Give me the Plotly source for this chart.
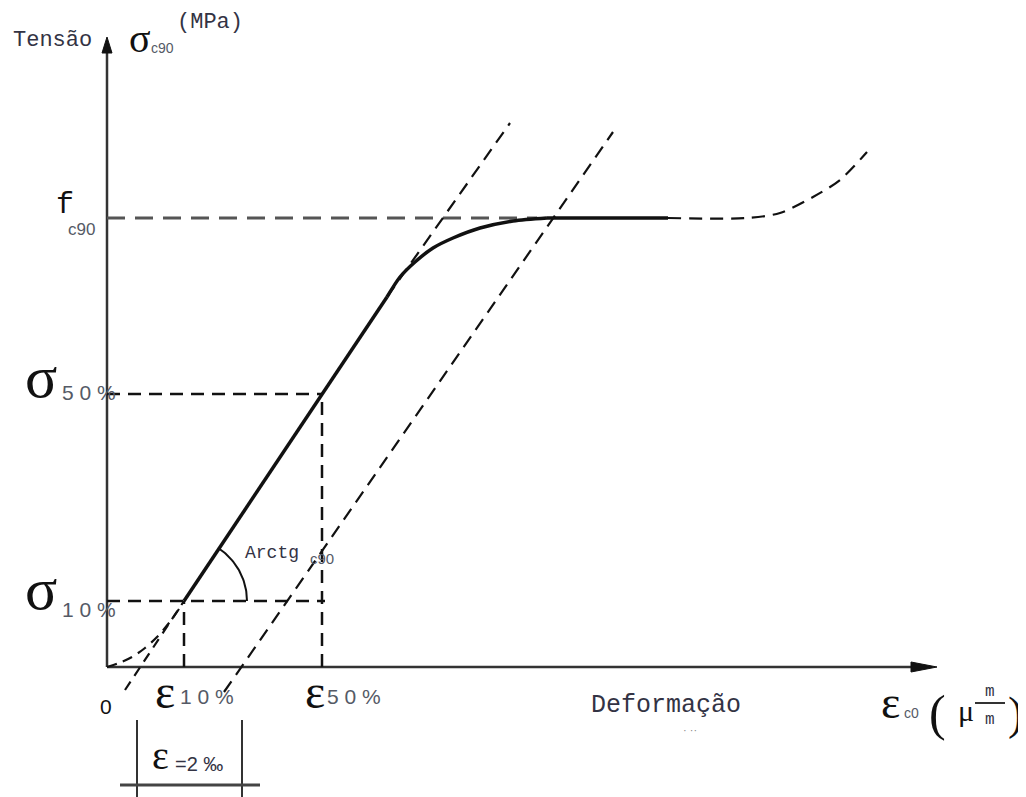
import numpy as np
import plotly.graph_objects as go

# ---------------- data (schematic units: strain -> x, stress -> y) ----------------
eps_10, sig_10 = 77, 66          # point at 10 % of strength
eps_50, sig_50 = 215, 273        # point at 50 % of strength
f_c90 = 449                      # compressive strength perpendicular to grain
axis_x_end, axis_y_end = 830, 630

linear_eps = [77, 280]
linear_sig = [66, 370]
knee_eps = [280, 293, 308, 326, 346, 373, 406, 440]
knee_sig = [370, 390, 405, 419, 429, 439, 446, 449]
plateau_eps = [440, 561]
plateau_sig = [449, 449]
tail_eps = [561, 640, 673, 706, 733, 760]
tail_sig = [449, 449, 454, 470, 487, 515]
toe_eps = [0, 12, 25, 38, 50, 62, 72]
toe_sig = [0, 4, 10, 19, 30, 44, 58]
ext_low_eps = [18, 77]
ext_low_sig = [-23, 66]
ext_high_eps = [280, 403]
ext_high_sig = [370, 544]
offset_eps = [117, 506]          # line parallel to elastic part, shifted by 2 per mil
offset_sig = [-25, 535]
arc_radius = 63
arc_angle_deg = 56
bracket_left, bracket_right = 30, 135
bracket_top, bracket_bottom = -53, -135
bracket_base, bracket_base_left, bracket_base_right = -118, 13, 153

# page has an 8px body margin: figure is 1018x789, 1 unit = 1 px
X0, X1 = -99, 919
Y0, Y1 = -130, 659

INK = "#111111"
TXT = "#222222"
SUB = "#555a66"
MONO = "Liberation Mono"
SERIF = "Liberation Serif"
SANS = "Liberation Sans"

fig = go.Figure()


def line(xs, ys, width=2.0, dash=None, color=INK, shape="linear"):
    fig.add_trace(go.Scatter(
        x=xs, y=ys, mode="lines", hoverinfo="skip", showlegend=False,
        line=dict(color=color, width=width, dash=dash, shape=shape, smoothing=0.8),
    ))


DASH = "13px,8px"

# axes
line([0, axis_x_end - 20], [0, 0], width=2.5, color="#333333")
line([0, 0], [0, axis_y_end - 12], width=2.5, color="#333333")
# arrow heads
fig.add_trace(go.Scatter(
    x=[axis_x_end, axis_x_end - 26, axis_x_end - 26, axis_x_end],
    y=[0, 5, -5, 0], fill="toself", fillcolor=INK, mode="lines",
    line=dict(color=INK, width=1), hoverinfo="skip", showlegend=False))
fig.add_trace(go.Scatter(
    x=[0, -5, 5, 0],
    y=[axis_y_end, axis_y_end - 16, axis_y_end - 16, axis_y_end], fill="toself",
    fillcolor=INK, mode="lines", line=dict(color=INK, width=1),
    hoverinfo="skip", showlegend=False))

# reference dashed lines
line([0, knee_eps[-1] - 10], [f_c90, f_c90], width=3, dash="18px,10px", color="#555555")
line([0, eps_50], [sig_50, sig_50], width=2.5, dash=DASH)
line([0, eps_50 + 3], [sig_10, sig_10], width=2.5, dash=DASH)
line([eps_10, eps_10], [0, sig_10], width=2.5, dash=DASH)
line([eps_50, eps_50], [0, sig_50], width=2.5, dash=DASH)

# construction lines
line(toe_eps, toe_sig, width=2.2, dash="10px,7px", shape="spline")
line(ext_low_eps, ext_low_sig, width=2.2, dash="10px,7px")
line(ext_high_eps, ext_high_sig, width=2.2, dash=DASH)
line(offset_eps, offset_sig, width=2.2, dash=DASH)
line(tail_eps, tail_sig, width=2.2, dash=DASH, shape="spline")

# main curve
line(linear_eps, linear_sig, width=3.5)
line(knee_eps, knee_sig, width=3.5, shape="spline")
line(plateau_eps, plateau_sig, width=3.5)

# angle arc
theta = np.radians(np.linspace(0, arc_angle_deg, 40))
line(list(eps_10 + arc_radius * np.cos(theta)), list(sig_10 + arc_radius * np.sin(theta)), width=2)

# bracket for 2 per mil
line([bracket_left, bracket_left], [bracket_top, bracket_bottom], width=2, color="#333333")
line([bracket_right, bracket_right], [bracket_top, bracket_bottom], width=2, color="#333333")
line([bracket_base_left, bracket_base_right], [bracket_base, bracket_base], width=3, color="#444444")

# fraction bar m/m
line([868, 898], [-36, -36], width=2, color="#333333")

ann = []


def text(s, x, y, size, family=MONO, color=TXT, xa="left", ya="middle"):
    ann.append(dict(text=s, x=x, y=y, xref="x", yref="y", showarrow=False,
                    xanchor=xa, yanchor=ya, font=dict(size=size, family=family, color=color)))


# y axis title
text("Tensão", -96, 627, 22, color="#333344")
text("σ", 20, 629, 40, SERIF, color=INK)
text("c90", 42, 619, 14, SANS, color=SUB)
text("(MPa)", 68, 645, 22, color="#333344")

# f_c90
text("f", -53, 462, 30, MONO, color=INK)
text("c90", -41, 438, 17, SANS, color=SUB)

# sigma 50 / sigma 10
text("σ", -84, 290, 60, SERIF, color=INK)
text("5 0 %", -47, 275, 21, SANS, color=SUB)
text("σ", -84, 78, 60, SERIF, color=INK)
text("1 0 %", -47, 58, 21, SANS, color=SUB)

# origin
text("0", -1, -39, 21, SANS, color=INK, xa="center")

# epsilon 10 / 50
text("ε", 46, -24, 48, SERIF, color=INK)
text("1 0 %", 71, -29, 21, SANS, color=SUB)
text("ε", 196, -24, 48, SERIF, color=INK)
text("5 0 %", 218, -29, 21, SANS, color=SUB)

# Arctg
text("Arctg", 136, 114, 18, color="#333344")
text("c90", 201, 109, 15, SANS, color=SUB)

# x-axis title
text("Deformação", 559, -38, 25, color="#333344", xa="center")
text("· ··", 583, -63, 11, SANS, color="#888888", xa="center")
text("ε", 772, -35, 46, SERIF, color=INK)
text("c0", 795, -46, 14, SANS, color=SUB)
text("(", 830, -46, 50, SERIF, color=INK, xa="center")
text("μ", 859, -43, 30, SERIF, color=INK, xa="center")
text("m", 883, -25, 16, MONO, color="#333344", xa="center")
text("m", 883, -53, 16, MONO, color="#333344", xa="center")
text(")", 908, -46, 46, SERIF, color=INK, xa="center")

# 2 per mil bracket label
text("ε", 43, -88, 40, SERIF, color=INK)
text("=2 ‰", 66, -97, 20, SANS, color="#333344")

fig.update_layout(
    width=1018, height=789, autosize=False,
    margin=dict(l=0, r=0, t=0, b=0),
    paper_bgcolor="white", plot_bgcolor="white",
    xaxis=dict(range=[X0, X1], visible=False, fixedrange=True),
    yaxis=dict(range=[Y0, Y1], visible=False, fixedrange=True),
    annotations=ann,
    showlegend=False,
)

fig.write_html("out.html")
